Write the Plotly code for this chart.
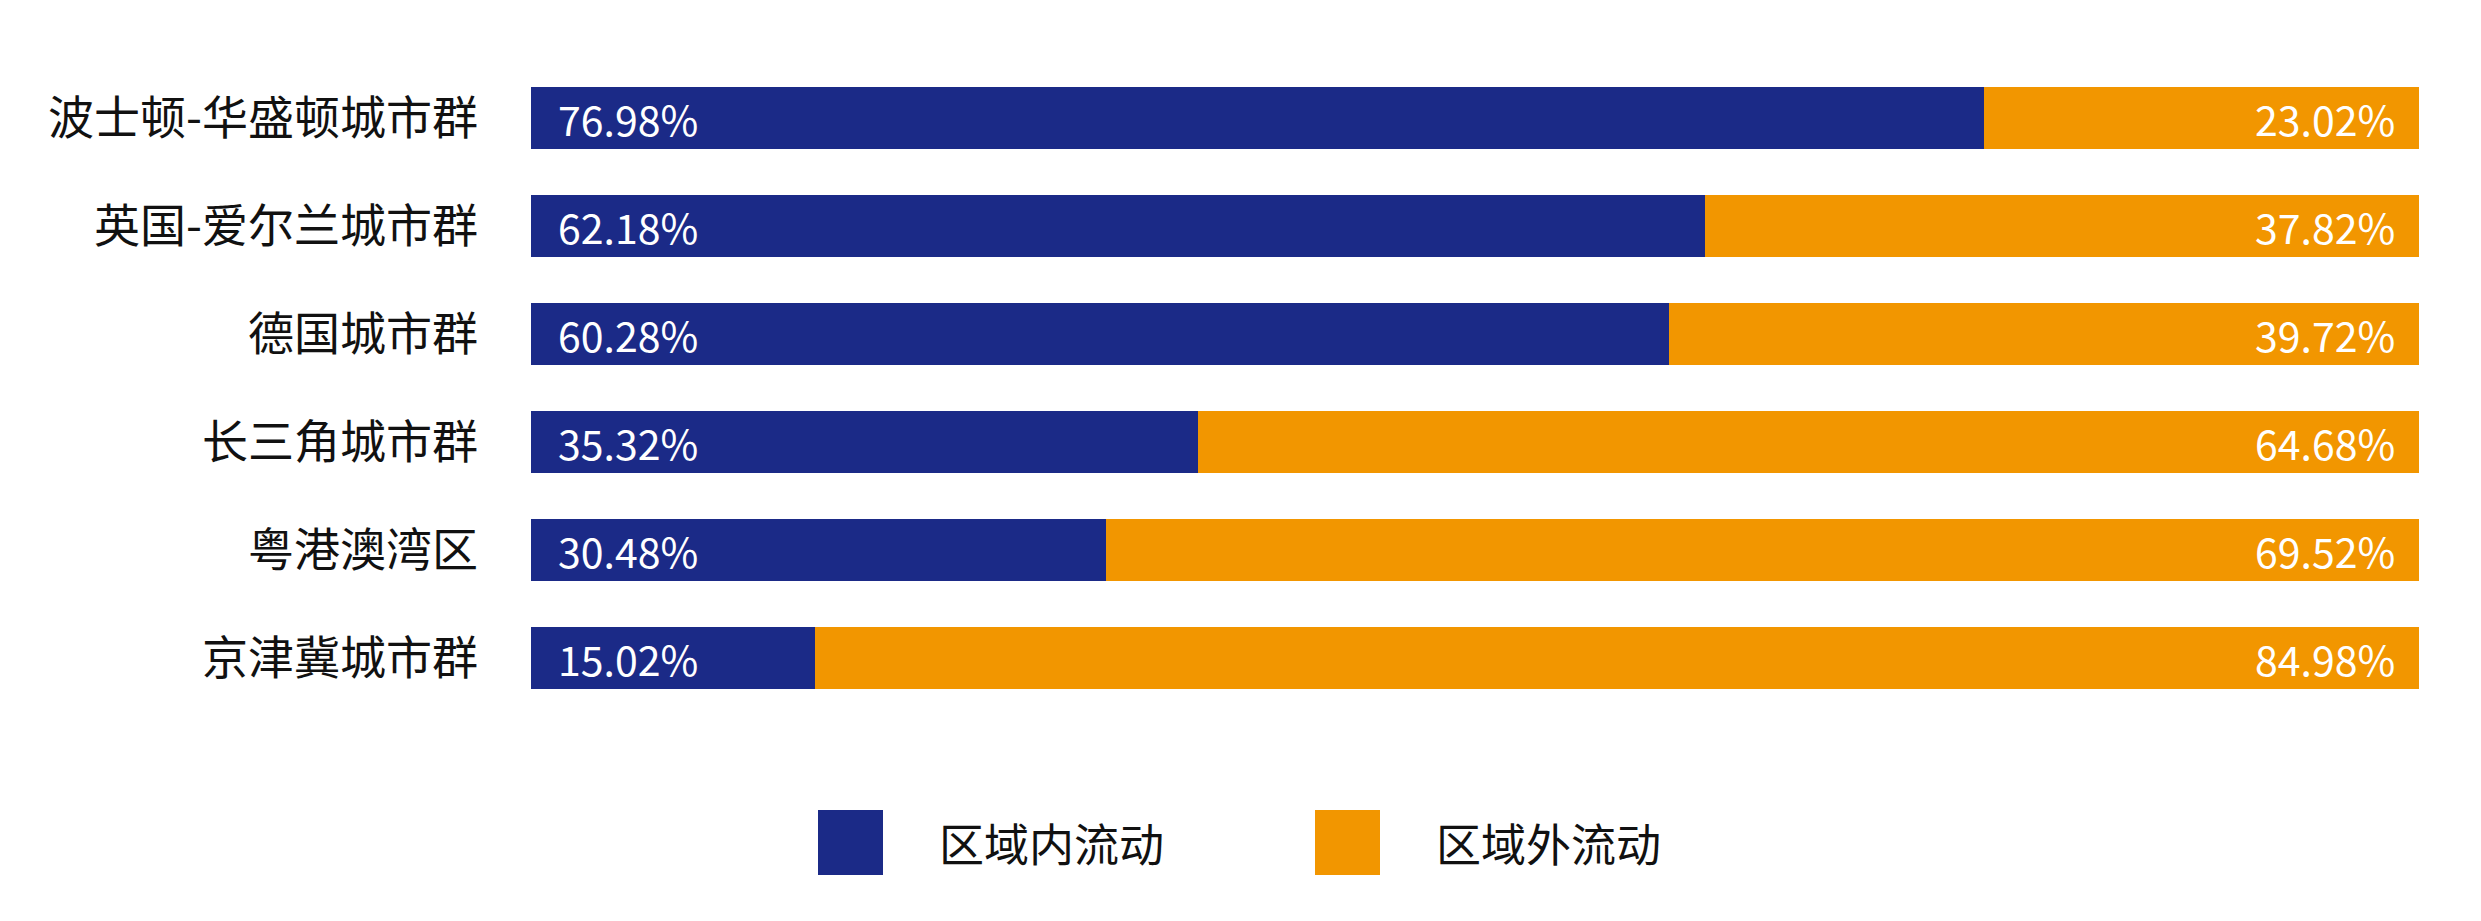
import plotly.graph_objects as go

categories = ["波士顿-华盛顿城市群", "英国-爱尔兰城市群", "德国城市群", "长三角城市群", "粤港澳湾区", "京津冀城市群"]
inner_flow = [76.98, 62.18, 60.28, 35.32, 30.48, 15.02]
outer_flow = [23.02, 37.82, 39.72, 64.68, 69.52, 84.98]
series_names = ["区域内流动", "区域外流动"]
colors = ["#1B2A87", "#F29600"]

W, H = 2481, 921
ML, MR, MT, MB = 531, 62, 64, 209
PW, PH = W - ML - MR, H - MT - MB
FONT = "Noto Sans CJK SC, Noto Sans, sans-serif"

def px2paper_x(px):
    return (px - ML) / PW

def px2paper_y(py):
    return (H - MB - py) / PH

fig = go.Figure()
fig.add_trace(go.Bar(y=categories, x=inner_flow, orientation="h", name=series_names[0],
                     marker=dict(color=colors[0], line=dict(width=0)), showlegend=False))
fig.add_trace(go.Bar(y=categories, x=outer_flow, orientation="h", name=series_names[1],
                     marker=dict(color=colors[1], line=dict(width=0)), showlegend=False))

annotations = []
for c, a, b in zip(categories, inner_flow, outer_flow):
    annotations.append(dict(x=0, y=c, xref="x", yref="y", text=f"{a:.2f}%", showarrow=False,
                            xanchor="left", yanchor="middle", xshift=25,
                            font=dict(family=FONT, size=41, color="white")))
    annotations.append(dict(x=a + b, y=c, xref="x", yref="y", text=f"{b:.2f}%", showarrow=False,
                            xanchor="right", yanchor="middle", xshift=-22,
                            font=dict(family=FONT, size=41, color="white")))

# Legend drawn manually (large square swatches)
legend_items = [(818, 937), (1315, 1434)]
shapes = []
for (sx, tx), name, col in zip(legend_items, series_names, colors):
    shapes.append(dict(type="rect", xref="paper", yref="paper",
                       x0=px2paper_x(sx), x1=px2paper_x(sx + 65),
                       y0=px2paper_y(875), y1=px2paper_y(810),
                       fillcolor=col, line=dict(width=0)))
    annotations.append(dict(x=px2paper_x(tx), y=px2paper_y(842), xref="paper", yref="paper",
                            text=name, showarrow=False, xanchor="left", yanchor="middle",
                            font=dict(family=FONT, size=45, color="#111111")))

fig.update_layout(
    barmode="stack",
    bargap=0.426,
    width=W, height=H,
    margin=dict(l=ML, r=MR, t=MT, b=MB, autoexpand=False),
    paper_bgcolor="white", plot_bgcolor="white",
    font=dict(family=FONT),
    xaxis=dict(range=[0, 100], visible=False, showgrid=False, zeroline=False),
    yaxis=dict(autorange="reversed", showgrid=False, zeroline=False, showline=False,
               ticks="", ticklabelstandoff=52,
               tickfont=dict(family=FONT, size=46, color="#111111")),
    shapes=shapes,
    annotations=annotations,
)

fig.write_html("out.html")
